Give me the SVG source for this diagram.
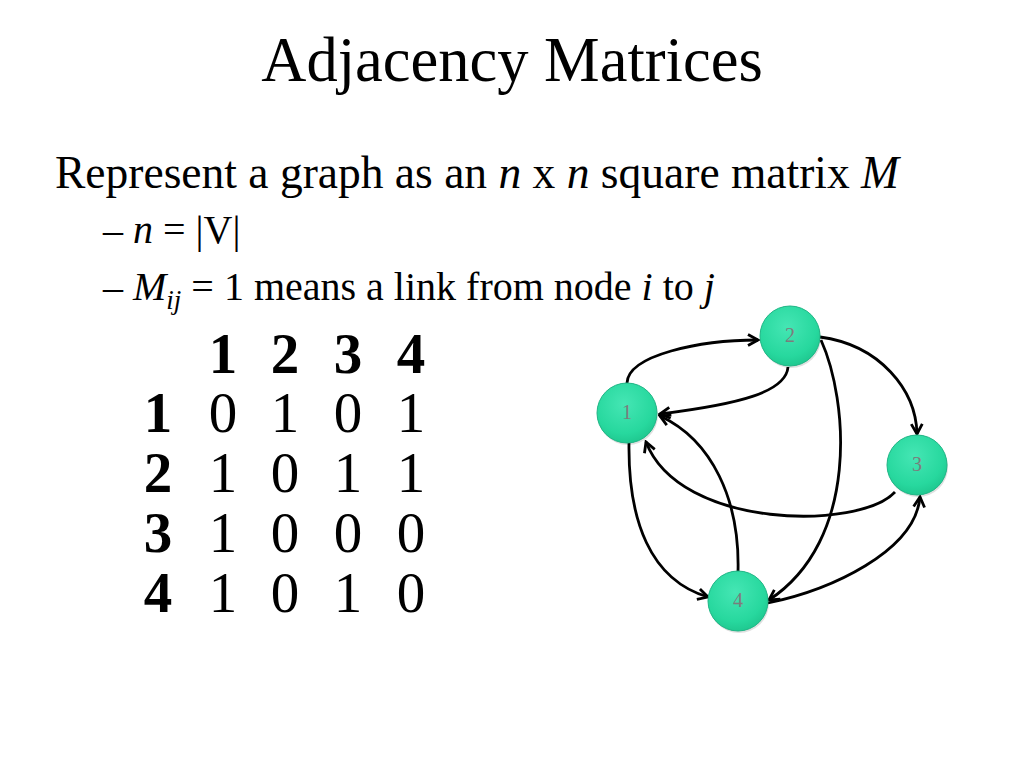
<svg xmlns="http://www.w3.org/2000/svg" width="1024" height="768" viewBox="0 0 1024 768">
<defs>
<style>
.t{font-family:"Liberation Serif","Times New Roman",serif;fill:#000}
.i{font-style:italic}
.b{font-weight:bold}
.mx{font-family:"Liberation Serif","Times New Roman",serif;font-size:57px;text-anchor:middle;fill:#000}
.edge{fill:none;stroke:#000;stroke-width:2.8;marker-end:url(#arr)}
.node circle{fill:url(#ng);stroke:#1FB585;stroke-width:1}
.node .sh{fill:#000;opacity:0.12;stroke:none}
.node text{font-family:"Liberation Serif","Times New Roman",serif;font-size:20px;fill:#7C7C7C;text-anchor:middle}
</style>
<radialGradient id="ng" cx="0.45" cy="0.35" r="0.7">
<stop offset="0" stop-color="#45E6B4"/>
<stop offset="0.7" stop-color="#27D89E"/>
<stop offset="1" stop-color="#1DC48C"/>
</radialGradient>
<marker id="arr" markerUnits="userSpaceOnUse" viewBox="0 0 14 14" markerWidth="14" markerHeight="14" refX="12" refY="7" orient="auto">
<path d="M2,1.5 L12,7 L2,12.5" fill="none" stroke="#000" stroke-width="2.8" stroke-linejoin="miter"/>
</marker>
</defs>
<rect width="1024" height="768" fill="#fff"/>
<text class="t" x="512" y="81" font-size="62.5" text-anchor="middle">Adjacency Matrices</text>
<text class="t" x="55" y="188" font-size="45.5">Represent a graph as an <tspan class="i">n</tspan> x <tspan class="i">n</tspan> square matrix <tspan class="i">M</tspan></text>
<text class="t" x="103" y="243" font-size="40">– <tspan class="i">n</tspan> = |V|</text>
<text class="t" x="103" y="300" font-size="40">– <tspan class="i">M</tspan><tspan class="i" font-size="27" dy="9">ij</tspan><tspan dy="-9"> = 1 means a link from node </tspan><tspan class="i">i</tspan> to <tspan class="i">j</tspan></text>
<g id="matrix">
<text class="mx b" x="223" y="373">1</text>
<text class="mx b" x="285" y="373">2</text>
<text class="mx b" x="348" y="373">3</text>
<text class="mx b" x="411" y="373">4</text>
<text class="mx b" x="158" y="432">1</text>
<text class="mx" x="223" y="432">0</text>
<text class="mx" x="285" y="432">1</text>
<text class="mx" x="348" y="432">0</text>
<text class="mx" x="411" y="432">1</text>
<text class="mx b" x="158" y="492">2</text>
<text class="mx" x="223" y="492">1</text>
<text class="mx" x="285" y="492">0</text>
<text class="mx" x="348" y="492">1</text>
<text class="mx" x="411" y="492">1</text>
<text class="mx b" x="158" y="552">3</text>
<text class="mx" x="223" y="552">1</text>
<text class="mx" x="285" y="552">0</text>
<text class="mx" x="348" y="552">0</text>
<text class="mx" x="411" y="552">0</text>
<text class="mx b" x="158" y="612">4</text>
<text class="mx" x="223" y="612">1</text>
<text class="mx" x="285" y="612">0</text>
<text class="mx" x="348" y="612">1</text>
<text class="mx" x="411" y="612">0</text>
</g>
<g id="connectors">
<path class="edge" d="M627,383 C628,355 700,340 758,340"/>
<path class="edge" d="M788,367 C786,392 740,404 660,414"/>
<path class="edge" d="M820,337 C880,345 916,390 917,434"/>
<path class="edge" d="M821,340 C848,400 860,540 769,600"/>
<path class="edge" d="M895,492 C860,530 680,530 646,442"/>
<path class="edge" d="M738,572 C740,500 712,440 660,416"/>
<path class="edge" d="M629,443 C628,520 650,580 708,597"/>
<path class="edge" d="M768,603 C830,590 915,552 920,497"/>
</g>
<g id="node1" class="node"><circle class="sh" cx="628" cy="415" r="30"/><circle cx="627" cy="413" r="30"/><text x="627" y="419">1</text></g>
<g id="node2" class="node"><circle class="sh" cx="791" cy="338" r="30"/><circle cx="790" cy="336" r="30"/><text x="790" y="342">2</text></g>
<g id="node3" class="node"><circle class="sh" cx="918" cy="467" r="30"/><circle cx="917" cy="465" r="30"/><text x="917" y="471">3</text></g>
<g id="node4" class="node"><circle class="sh" cx="739" cy="603" r="30"/><circle cx="738" cy="601" r="30"/><text x="738" y="607">4</text></g>
</svg>
